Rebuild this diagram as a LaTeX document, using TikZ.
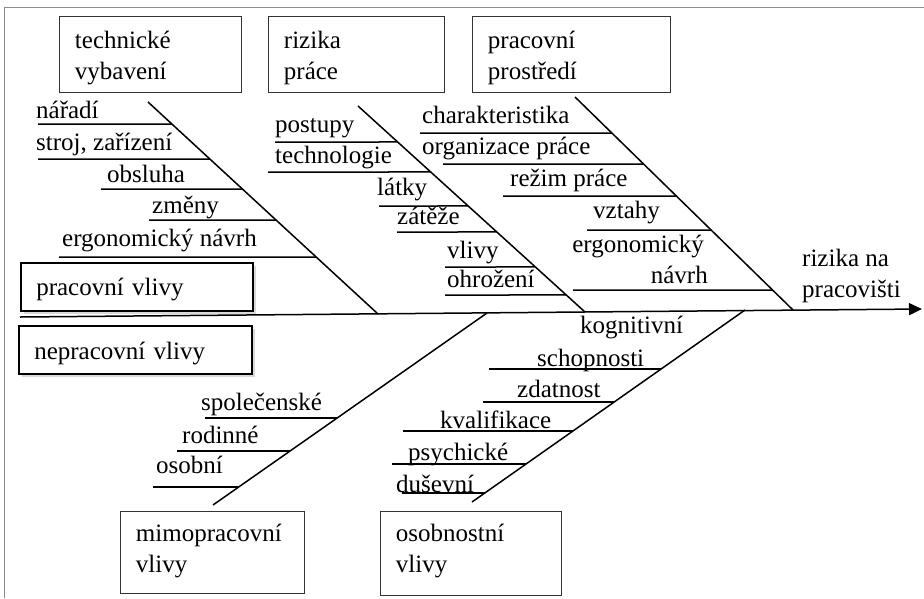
\documentclass[tikz,border=0pt]{standalone}
\usepackage{fontspec}
\setmainfont{Liberation Serif}
\usetikzlibrary{arrows.meta,shadows}
\newcommand\tstrut[1]{\rule{0pt}{#1}}
\newcommand\bstrut[1]{\rule[-#1]{0pt}{#1}}
\begin{document}
\begin{tikzpicture}[x=1pt,y=-1pt,
  txt/.style={font=\fontsize{25}{31}\selectfont},
  box/.style={txt,draw=black!80,line width=0.9pt,anchor=north west,align=left,inner xsep=15.5pt,inner ysep=0pt},
  sbox/.style={box,draw=black,fill=white,line width=1.6pt,
    drop shadow={opacity=0.25,fill=black!60,shadow xshift=3pt,shadow yshift=-3pt}},
  lbl/.style={txt,anchor=base west,inner sep=0pt},
  bone/.style={line width=1.5pt},
  rib/.style={line width=1.5pt},
  frame/.style={draw=black!45,line width=0.8pt}]
\useasboundingbox (0,0) rectangle (924,598);
\newcommand\ribline[3]{\draw[rib] (#2,#3) -- (intersection of #1s--#1e and 0,#3--1,#3);}
% frame
\draw[frame] (4,598) -- (4,7) -- (924,7);
% boxes
\node[box,text width=151pt] (tv) at (59,16) {\tstrut{32pt}technické\\vybavení\bstrut{13pt}};
\node[box,text width=145pt] (rp) at (268,16) {\tstrut{32pt}rizika\\práce\bstrut{13pt}};
\node[box,text width=167pt] (pp) at (472,16) {\tstrut{32pt}pracovní\\prostředí\bstrut{13pt}};
\node[sbox,text width=201pt] (pv) at (20,262) {\tstrut{33pt}pracovní vlivy\bstrut{15pt}};
\node[sbox,text width=202pt] (nv) at (18,325) {\tstrut{34pt}nepracovní vlivy\bstrut{14pt}};
\node[box,text width=153pt] (mv) at (120,511) {\tstrut{30pt}mimopracovní\\vlivy\bstrut{21pt}};
\node[box,text width=150pt] (ov) at (380,511) {\tstrut{30pt}osobnostní\\vlivy\bstrut{23pt}};
% spine
\coordinate (sp0) at (20,317);
\coordinate (sp1) at (922,309);
\draw[bone,-{Triangle[length=13pt,width=12pt]}] (sp0) -- (sp1);
\node[lbl,align=left] (res) at (802,297) {rizika na\\pracovišti};
% bones
\coordinate (b1s) at (148,102); \coordinate (b1e) at (378,314);
\coordinate (b2s) at (358,106); \coordinate (b2e) at (585,312);
\coordinate (b3s) at (575,97);  \coordinate (b3e) at (793,310);
\coordinate (b4s) at (487,313); \coordinate (b4e) at (213,505);
\coordinate (b5s) at (745,310); \coordinate (b5e) at (472,502);
\draw[bone] (b1s) -- (b1e);
\draw[bone] (b2s) -- (b2e);
\draw[bone] (b3s) -- (b3e);
\draw[bone] (b4s) -- (b4e);
\draw[bone] (b5s) -- (b5e);
% bone 1
\node[lbl] (a1) at (36,118) {nářadí};            \ribline{b1}{38}{124}
\node[lbl] (a2) at (36,150) {stroj, zařízení};   \ribline{b1}{38}{159}
\node[lbl] (a3) at (107,182) {obsluha};          \ribline{b1}{101}{189}
\node[lbl] (a4) at (152,213) {změny};            \ribline{b1}{149}{220}
\node[lbl] (a5) at (62,246) {ergonomický návrh}; \ribline{b1}{59}{257}
% bone 2
\node[lbl] (c1) at (275,132) {postupy};     \ribline{b2}{275}{142}
\node[lbl] (c2) at (275,163) {technologie}; \ribline{b2}{268}{172}
\node[lbl] (c3) at (377,195) {látky};       \ribline{b2}{379}{206}
\node[lbl] (c4) at (397,224) {zátěže};      \ribline{b2}{397}{232}
\node[lbl] (c5) at (447,258) {vlivy};       \ribline{b2}{445}{267}
\node[lbl] (c6) at (447,287) {ohrožení};    \ribline{b2}{445}{295}
% bone 3
\node[lbl] (d1) at (422,123) {charakteristika};  \ribline{b3}{420}{133}
\node[lbl] (d2) at (422,154) {organizace práce}; \ribline{b3}{443}{164}
\node[lbl] (d3) at (510,186) {režim práce};      \ribline{b3}{503}{196}
\node[lbl] (d4) at (593,218) {vztahy};           \ribline{b3}{587}{230}
\node[lbl,anchor=base east] (d5) at (704,252) {ergonomický};
\node[lbl,anchor=base east] (d6) at (708,283) {návrh};
\ribline{b3}{573}{290}
% bone 4
\node[lbl] (e1) at (201,410) {společenské}; \ribline{b4}{205}{418}
\node[lbl] (e2) at (182,443) {rodinné};     \ribline{b4}{177}{451}
\node[lbl] (e3) at (156,473) {osobní};      \ribline{b4}{153}{487}
% bone 5
\node[lbl] (f1) at (580,333) {kognitivní};
\node[lbl] (f2) at (537,366) {schopnosti};  \ribline{b5}{489}{369}
\node[lbl] (f3) at (517,397) {zdatnost};    \ribline{b5}{483}{402}
\node[lbl] (f4) at (440,428) {kvalifikace}; \ribline{b5}{403}{431}
\node[lbl] (f5) at (408,460) {psychické};   \ribline{b5}{392}{464}
\node[lbl] (f6) at (396,492) {duševní};     \ribline{b5}{402}{493}
\end{tikzpicture}
\end{document}
